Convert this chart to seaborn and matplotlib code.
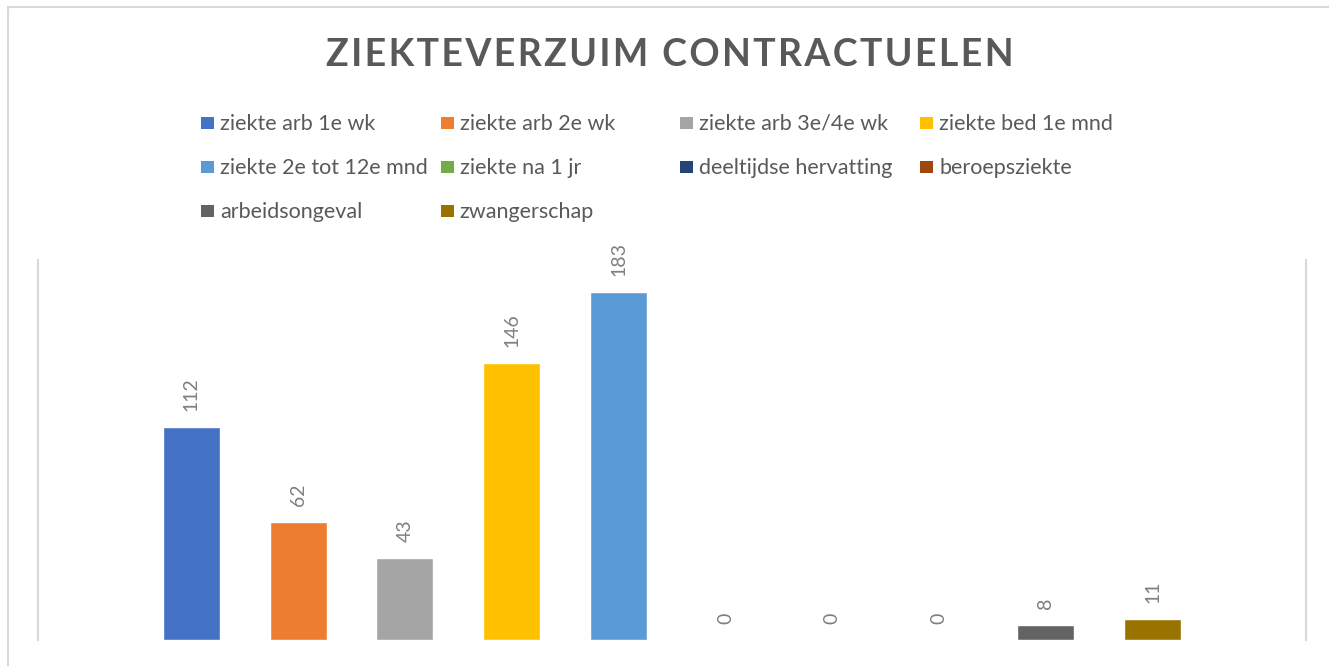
import matplotlib
matplotlib.use("Agg")
import matplotlib.pyplot as plt
import seaborn as sns
import pandas as pd
from matplotlib.patches import Rectangle
from matplotlib.lines import Line2D

categorieen = ["ziekte arb 1e wk", "ziekte arb 2e wk", "ziekte arb 3e/4e wk",
               "ziekte bed 1e mnd", "ziekte 2e tot 12e mnd", "ziekte na 1 jr",
               "deeltijdse hervatting", "beroepsziekte", "arbeidsongeval",
               "zwangerschap"]
aantallen = [112, 62, 43, 146, 183, 0, 0, 0, 8, 11]
kleuren = ["#4472C4", "#ED7D31", "#A5A5A5", "#FFC000", "#5B9BD5",
           "#70AD47", "#264478", "#9E480E", "#636363", "#997300"]

W, H = 1329, 666
sns.set_theme(style="white")
plt.rcParams["font.family"] = ["Lato", "DejaVu Sans"]

df = pd.DataFrame({"cat": categorieen, "n": aantallen})

fig = plt.figure(figsize=(W / 100, H / 100), dpi=100)
ax = fig.add_axes([38 / W, (H - 640) / H, (1306 - 38) / W, (640 - 260) / H])

sns.barplot(data=df, x="cat", y="n", hue="cat", palette=kleuren,
            width=0.533, legend=False, ax=ax, saturation=1)

ax.set_xlim(-1.435, 10.435)
ax.set_ylim(0, 200)
ax.set_xticks([])
ax.set_yticks([])
ax.set_xlabel("")
ax.set_ylabel("")
for s in ["top", "bottom"]:
    ax.spines[s].set_visible(False)
for s in ["left", "right"]:
    ax.spines[s].set_color("#d9d9d9")
    ax.spines[s].set_linewidth(1.5)

# data labels, rotated like in excel
for i, v in enumerate(aantallen):
    ax.annotate(str(v), (i, v), xytext=(0, 11.5), textcoords="offset points",
                rotation=90, ha="center", va="bottom", fontsize=14,
                color="#7f7f7f", annotation_clip=False)

# titel met letterafstand
titel = "ZIEKTEVERZUIM CONTRACTUELEN"
fig.text(670 / W, 1 - 55 / H, "\u200a".join(titel), ha="center", va="center",
         fontsize=27, fontweight="bold", color="#595959")

# legenda als raster, zoals excel
for i, (lab, kl) in enumerate(zip(categorieen, kleuren)):
    r, c = divmod(i, 4)
    x0 = 201 + c * 239.7
    yc = 123 + r * 44.2
    fig.add_artist(Rectangle((x0 / W, 1 - (yc + 6) / H), 13 / W, 12 / H,
                             transform=fig.transFigure, color=kl, lw=0))
    fig.text((x0 + 19) / W, 1 - (yc + 6.5) / H, lab, ha="left", va="baseline",
             fontsize=15.5, color="#595959")

# rand van de grafiek
fig.add_artist(Line2D([8 / W, 1], [1 - 7 / H, 1 - 7 / H], transform=fig.transFigure,
                      color="#d9d9d9", lw=1.5))
fig.add_artist(Line2D([8 / W, 8 / W], [0, 1 - 7 / H], transform=fig.transFigure,
                      color="#d9d9d9", lw=1.5))

fig.savefig("out.png", dpi=100)
